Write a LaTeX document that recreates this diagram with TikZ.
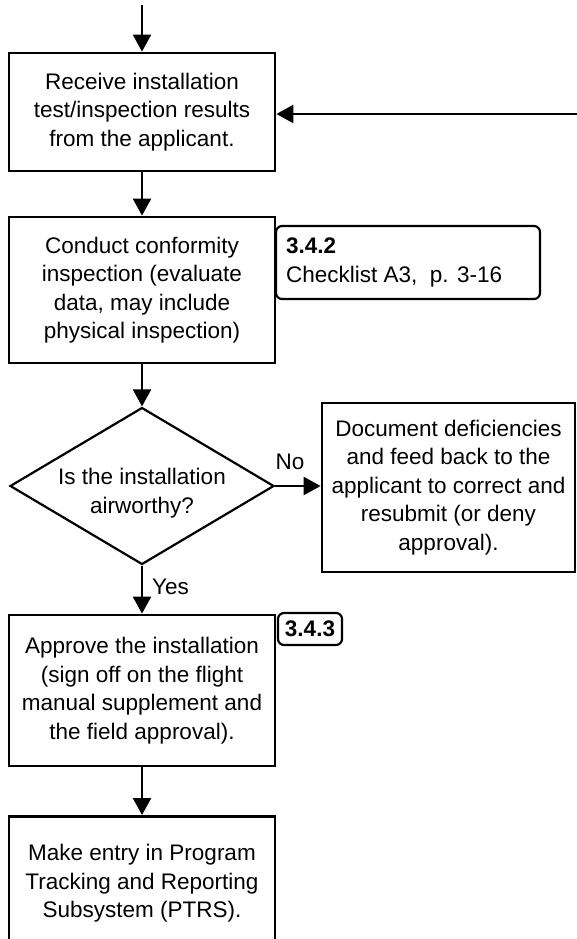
\documentclass[tikz,border=0pt]{standalone}
\usepackage{fontspec}
\setmainfont{Liberation Sans}
\usetikzlibrary{arrows.meta,shapes.geometric}
\begin{document}
\begin{tikzpicture}[x=1pt,y=-1pt,
  every node/.style={font=\fontsize{22.5}{28.5}\selectfont},
  procbox/.style={draw, line width=2.8pt, rectangle, inner sep=0pt, align=center},
  refbox/.style={draw, line width=2.2pt, rounded corners=6pt, inner sep=0pt},
  flow/.style={line width=2.4pt, -{Triangle[length=17pt,width=18pt]}},
  lbl/.style={inner sep=0pt}
]
\path[use as bounding box, clip] (0,0) rectangle (577,939);

% process boxes
\node[procbox, minimum width=266pt, minimum height=118pt] (b1) at (142,112)
  {Receive installation\\test/inspection results\\from the applicant.};
\node[procbox, minimum width=266pt, minimum height=146pt] (b2) at (142,290)
  {Conduct conformity\\inspection (evaluate\\data, may include\\physical inspection)};
\node[draw, line width=2.2pt, diamond, minimum width=264pt, minimum height=157pt, inner sep=0pt] (dia) at (142,486) {};
\node[lbl, align=center] (diat) at (142,493) {Is the installation\\airworthy?};
\node[procbox, minimum width=253pt, minimum height=169pt] (doc) at (448.5,487.5)
  {Document deficiencies\\and feed back to the\\applicant to correct and\\resubmit (or deny\\approval).};
\node[procbox, minimum width=266pt, minimum height=151pt] (b3) at (142,690.5)
  {Approve the installation\\(sign off on the flight\\manual supplement and\\the field approval).};
\node[procbox, minimum width=266pt, minimum height=134pt, anchor=north] (b4) at (142,815)
  {Make entry in Program\\Tracking and Reporting\\Subsystem (PTRS).};

% reference boxes
\node[refbox, minimum width=264pt, minimum height=73pt] (r1) at (408,262.5) {};
\node[lbl, anchor=west, align=left] (r1t) at (286,262.5) {\textbf{3.4.2}\\Checklist A3,\ \ p. 3-16};
\node[refbox, minimum width=64pt, minimum height=32pt] (r2) at (310,629) {\textbf{3.4.3}};

% connectors
\coordinate (top) at (142,5);
\coordinate (rin) at (577,114);
\draw[flow] (top) -- (b1.north);
\draw[flow] (rin) -- (rin -| b1.east);
\draw[flow] (b1.south) -- (b2.north);
\draw[flow] (b2.south) -- (dia.north);
\draw[flow] (dia.east) -- (dia.east -| doc.west);
\draw[flow] (dia.south) -- (b3.north);
\draw[flow] (b3.south) -- (b4.north);

% branch labels
\node[lbl] (no) at (290,462) {No};
\node[lbl, anchor=west] (yes) at (152,587) {Yes};
\end{tikzpicture}
\end{document}
